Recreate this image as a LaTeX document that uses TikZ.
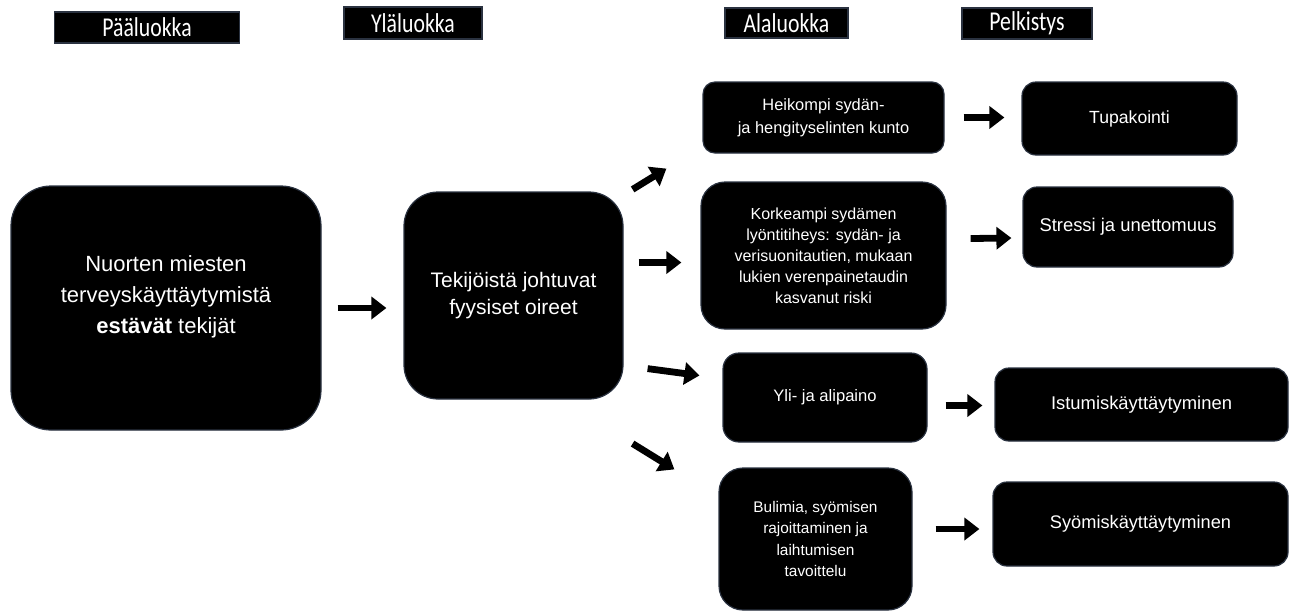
\documentclass[tikz,border=0pt]{standalone}
\usepackage{fontspec}
\setmainfont{Liberation Sans}
\newfontfamily\headfont[FakeStretch=0.8]{Carlito}
\usetikzlibrary{positioning, arrows.meta, calc}
\definecolor{boxblack}{HTML}{000000}
\definecolor{boxedge}{HTML}{2A3240}

\begin{document}
\begin{tikzpicture}[x=0.5pt, y=-0.5pt,
    every node/.style={text=white, align=center},
    head/.style={draw=boxedge, fill=boxblack, line width=0.6pt, inner sep=0pt,
                 font={\headfont\fontsize{13.6}{16}\selectfont}},
    box/.style={draw=boxedge, fill=boxblack, line width=0.6pt, inner sep=2pt},
    arr/.style={line width=3.4pt, -{Triangle[length=7.5pt, width=11pt]}},
  ]
  \useasboundingbox (0,0) rectangle (1294,612);

  % column headers
  \node[head, minimum width=92.5pt, minimum height=15.5pt] (hpaa) at (147,27.5) {Pääluokka};
  \node[head, minimum width=69pt, minimum height=16pt] (hyla) at (413,23) {Yläluokka};
  \node[head, minimum width=61.5pt, minimum height=15pt] (hala) at (786.5,23) {Alaluokka};
  \node[head, minimum width=65pt, minimum height=15.5pt] (hpel) at (1027,23.5) {Pelkistys};

  % main and upper class
  \node[box, rounded corners=20pt, minimum width=155pt, minimum height=122pt,
        font={\fontsize{11}{15.5}\selectfont}] (main) at (166,308)
    {Nuorten miesten\\terveyskäyttäytymistä\\\textbf{estävät} tekijät\rule[-13pt]{0pt}{0pt}};
  \node[box, rounded corners=17pt, minimum width=109.5pt, minimum height=103.5pt,
        font={\fontsize{10.5}{13.5}\selectfont}] (tek) at (513.5,295.5)
    {Tekijöistä johtuvat\\fyysiset oireet};

  % subclasses
  \node[box, rounded corners=6pt, minimum width=120.5pt, minimum height=35.5pt,
        font={\fontsize{8.2}{11.5}\selectfont}] (heik) at (823.5,117.5)
    {Heikompi sydän-\\ja hengityselinten kunto\rule[-1.5pt]{0pt}{0pt}};
  \node[box, rounded corners=12pt, minimum width=122.5pt, minimum height=73.5pt,
        font={\fontsize{8}{10.5}\selectfont}] (kork) at (823.5,255.5)
    {Korkeampi sydämen\\lyöntitiheys: sydän- ja\\verisuonitautien, mukaan\\lukien verenpainetaudin\\kasvanut riski};
  \node[box, rounded corners=8pt, minimum width=102pt, minimum height=44.5pt,
        font={\fontsize{8.3}{10}\selectfont}] (yli) at (825,397.5)
    {Yli- ja alipaino};
  \node[box, rounded corners=12pt, minimum width=96.5pt, minimum height=71pt,
        font={\fontsize{7.7}{10.8}\selectfont}] (bul) at (815.5,539)
    {Bulimia, syömisen\\rajoittaminen ja\\laihtumisen\\tavoittelu};

  % simplifications
  \node[box, rounded corners=7pt, minimum width=107.5pt, minimum height=36.5pt,
        font={\fontsize{8.8}{10}\selectfont}] (tupa) at (1129.5,118.5) {Tupakointi};
  \node[box, rounded corners=7pt, minimum width=105pt, minimum height=40pt,
        font={\fontsize{9.2}{10}\selectfont}] (stres) at (1128,227) {Stressi ja unettomuus};
  \node[box, rounded corners=7pt, minimum width=146.5pt, minimum height=36.5pt,
        font={\fontsize{9.2}{10}\selectfont}] (istu) at (1141.5,404.5) {Istumiskäyttäytyminen};
  \node[box, rounded corners=7pt, minimum width=147.5pt, minimum height=42pt,
        font={\fontsize{9.1}{10}\selectfont}] (syo) at (1140.5,524) {Syömiskäyttäytyminen};

  % arrows
  \draw[arr, shorten <=8pt, shorten >=8.5pt] (main.east) -- (main.east -| tek.west);
  \draw[arr] ([shift={(9,-2)}]tek.north east) -- ([shift={(-36,15)}]heik.south west);
  \draw[arr] ([shift={(15,-33)}]tek.east) -- ([shift={(-19,7)}]kork.west);
  \draw[arr] ([shift={(24,-31)}]tek.south east) -- ([shift={(-23,-22)}]yli.west);
  \draw[arr] ([shift={(9,44)}]tek.south east) -- ([shift={(-44,2)}]bul.north west);
  \draw[arr, shorten <=9.5pt, shorten >=8.5pt] (heik.east) -- (heik.east -| tupa.west);
  \draw[arr] ([shift={(24,-17)}]kork.east) -- ([shift={(-11,11)}]stres.west);
  \draw[arr] ([shift={(18,8)}]yli.east) -- ([shift={(-12,1)}]istu.west);
  \draw[arr] ([shift={(23,-10)}]bul.east) -- ([shift={(-13,5)}]syo.west);
\end{tikzpicture}
\end{document}
